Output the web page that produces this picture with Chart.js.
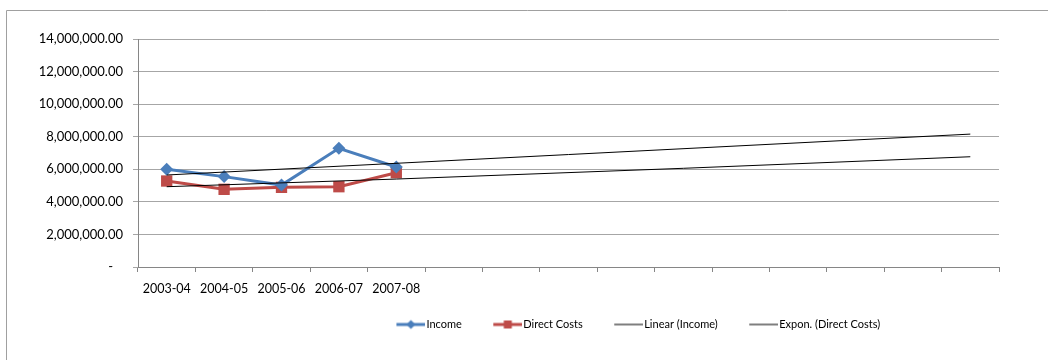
<!DOCTYPE html>
<html>
<head>
<meta charset="utf-8">
<script src="https://cdn.jsdelivr.net/npm/chart.js@4/dist/chart.umd.min.js"></script>
<style>
  html, body { margin: 0; padding: 0; background: #fff; }
  #wrap { width: 1048px; height: 360px; position: relative; }
</style>
</head>
<body>
<div id="wrap"><canvas id="chart" width="1048" height="360"></canvas></div>
<script>
// Financial years on the category axis (the axis runs on past the data for the forecast)
const years = ['2003-04', '2004-05', '2005-06', '2006-07', '2007-08',
               '', '', '', '', '', '', '', '', '', ''];

// Yearly totals
const income      = [6000000, 5550000, 5030000, 7290000, 6140000];
const directCosts = [5280000, 4770000, 4890000, 4930000, 5790000];

// Trend lines carried forward across the whole axis
const linearIncome = [5650000, null, null, null, null, null, null, null,
                      null, null, null, null, null, null, 8160000];
const exponCosts   = [4930000, null, null, null, 5400000, null, null, null,
                      null, 6060000, null, null, null, null, 6770000];

// Value axis
const yMin = 0, yMax = 14000000, yStep = 2000000;

const FONT = 'Lato, "Open Sans", sans-serif';
const BLUE = '#4a7ebb', RED = '#be4b48', TREND = '#000000', TREND_KEY = '#7f7f7f';
const GRID = '#a6a6a6', AXIS = '#868686';

// Legend keys: a short line with the series marker, padded on the left
function keyImage(color, marker, lineWidth) {
  const c = document.createElement('canvas');
  c.width = 55; c.height = 14;
  const g = c.getContext('2d');
  const y = 7, x0 = 26, x1 = 55, cx = (x0 + x1) / 2;
  g.strokeStyle = color; g.lineWidth = lineWidth;
  g.beginPath(); g.moveTo(x0, y); g.lineTo(x1, y); g.stroke();
  g.fillStyle = color;
  if (marker === 'diamond') {
    g.beginPath();
    g.moveTo(cx, y - 4.5); g.lineTo(cx + 4.5, y); g.lineTo(cx, y + 4.5); g.lineTo(cx - 4.5, y);
    g.closePath(); g.fill();
  } else if (marker === 'square') {
    g.fillRect(cx - 4, y - 4, 8, 8);
  }
  return c;
}
const keys = [
  keyImage(BLUE, 'diamond', 3),
  keyImage(RED, 'square', 3),
  keyImage(TREND_KEY, null, 2),
  keyImage(TREND_KEY, null, 2)
];

// Thin frame round the chart
const frame = {
  id: 'frame',
  beforeDraw(chart) {
    const ctx = chart.ctx;
    ctx.save();
    ctx.strokeStyle = '#a0a0a0';
    ctx.lineWidth = 1;
    ctx.beginPath();
    ctx.moveTo(6.5, 360); ctx.lineTo(6.5, 10.5); ctx.lineTo(1048, 10.5);
    ctx.stroke();
    ctx.restore();
  }
};

// The legend row sits right of the page centre
const legendShift = {
  id: 'legendShift',
  afterLayout(chart) {
    const lg = chart.legend;
    if (lg) { lg.left += 128; lg.right += 128; }
  }
};

new Chart(document.getElementById('chart'), {
  type: 'line',
  data: {
    labels: years,
    datasets: [
      { label: 'Income', data: income, borderColor: BLUE, backgroundColor: BLUE,
        borderWidth: 3, pointStyle: 'rectRot', pointRadius: 6.5, pointBorderWidth: 0,
        tension: 0, order: 1 },
      { label: 'Direct Costs', data: directCosts, borderColor: RED, backgroundColor: RED,
        borderWidth: 3, pointStyle: 'rect', pointRadius: 8, pointBorderWidth: 0,
        tension: 0, order: 1 },
      { label: 'Linear (Income)', data: linearIncome, borderColor: TREND,
        borderWidth: 1, pointRadius: 0, spanGaps: true, tension: 0, order: 0 },
      { label: 'Expon. (Direct Costs)', data: exponCosts, borderColor: TREND,
        borderWidth: 1, pointRadius: 0, spanGaps: true, tension: 0, order: 0 }
    ]
  },
  options: {
    responsive: false,
    animation: false,
    layout: { padding: { left: 0, right: 49, top: 39, bottom: 20 } },
    plugins: {
      tooltip: { enabled: false },
      legend: {
        position: 'bottom',
        labels: {
          font: { family: FONT, size: 11 },
          color: '#000',
          usePointStyle: true,
          pointStyleWidth: 46,
          boxHeight: 11,
          padding: 10,
          sort: (a, b) => a.datasetIndex - b.datasetIndex,
          generateLabels(chart) {
            return chart.data.datasets.map((ds, i) => ({
              text: ds.label,
              pointStyle: keys[i],
              fillStyle: 'rgba(0,0,0,0)',
              strokeStyle: 'rgba(0,0,0,0)',
              lineWidth: 0,
              fontColor: '#000',
              datasetIndex: i,
              hidden: false
            }));
          }
        }
      }
    },
    scales: {
      x: {
        type: 'category',
        offset: true,
        grid: { offset: true, drawOnChartArea: false, drawTicks: true, tickLength: 5, color: AXIS },
        border: { color: AXIS, width: 1 },
        ticks: { font: { family: FONT, size: 12.5 }, color: '#000', padding: 9,
                 autoSkip: false, maxRotation: 0 },
        afterFit(scale) { scale.height = 42; }
      },
      y: {
        min: yMin, max: yMax,
        grid: { color: GRID, tickLength: 5, drawTicks: true },
        border: { color: AXIS, width: 1 },
        ticks: {
          stepSize: yStep,
          font: { family: FONT, size: 13 }, color: '#000', padding: 10,
          callback(v) {
            if (v === 0) return '-   ';
            return v.toLocaleString('en-US', { minimumFractionDigits: 2, maximumFractionDigits: 2 });
          }
        },
        afterFit(scale) { scale.width = 138; }
      }
    }
  },
  plugins: [frame, legendShift]
});
</script>
</body>
</html>
